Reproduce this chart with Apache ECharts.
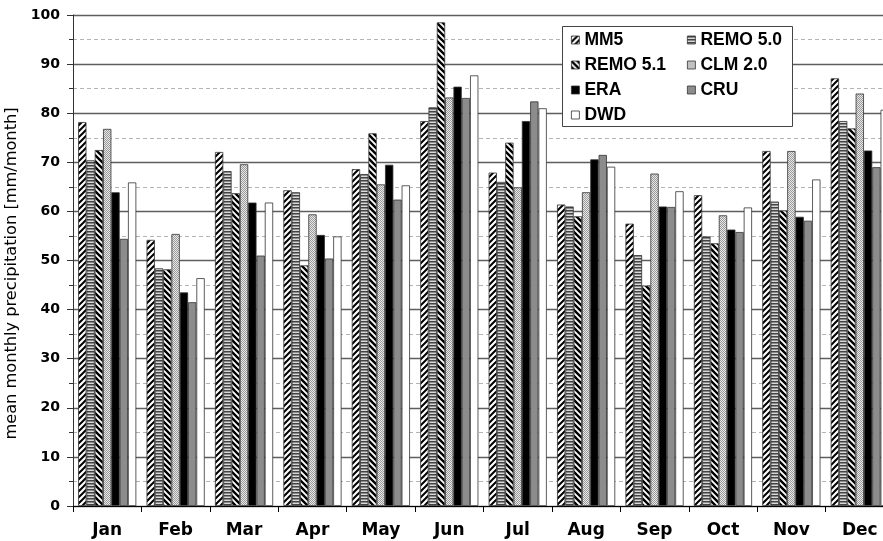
<!DOCTYPE html>
<html>
<head>
<meta charset="utf-8">
<script src="https://cdn.jsdelivr.net/npm/echarts@6/dist/echarts.min.js"></script>
<style>
  html, body { margin: 0; padding: 0; background: #fff; }
  #chart { width: 883px; height: 541px; }
</style>
</head>
<body>
<div id="chart"></div>
<script>
const months = ['Jan', 'Feb', 'Mar', 'Apr', 'May', 'Jun', 'Jul', 'Aug', 'Sep', 'Oct', 'Nov', 'Dec']

const mm5 = [78.2, 54.2, 72.1, 64.3, 68.6, 78.4, 67.9, 61.4, 57.5, 63.3, 72.3, 87.1]
const remo50 = [70.4, 48.4, 68.2, 63.9, 67.6, 81.2, 66.0, 61.0, 51.1, 54.9, 62.0, 78.4]
const remo51 = [72.5, 48.2, 63.7, 49.0, 75.9, 98.5, 74.0, 59.0, 44.9, 53.5, 60.2, 76.9]
const clm20 = [76.8, 55.4, 69.6, 59.4, 65.5, 83.2, 64.9, 63.9, 67.7, 59.2, 72.3, 84.0]
const era = [63.9, 43.5, 61.8, 55.2, 69.5, 85.4, 78.4, 70.6, 61.0, 56.3, 58.9, 72.4]
const cru = [54.4, 41.5, 51.0, 50.4, 62.4, 83.1, 82.4, 71.5, 60.9, 55.8, 58.1, 69.0]
const dwd = [65.9, 46.4, 61.8, 54.9, 65.3, 87.7, 81.0, 69.1, 64.1, 60.8, 66.5, 80.7]

const yTicks = [0, 10, 20, 30, 40, 50, 60, 70, 80, 90, 100]

const FONT = '"Liberation Sans", Arial, sans-serif'
const WIDE = '"DejaVu Sans", Verdana, sans-serif'

// small canvas tiles used as bar fills
function makeTile(size, draw) {
  const c = document.createElement('canvas')
  c.width = size
  c.height = size
  const ctx = c.getContext('2d')
  draw(ctx, size)
  return { image: c, repeat: 'repeat' }
}

const hatchFwd = makeTile(6, (ctx, s) => {
  ctx.fillStyle = '#fff'
  ctx.fillRect(0, 0, s, s)
  ctx.strokeStyle = '#000'
  ctx.lineWidth = 2
  ctx.beginPath()
  ctx.moveTo(-1, s + 1); ctx.lineTo(s + 1, -1)
  ctx.moveTo(-1, 1); ctx.lineTo(1, -1)
  ctx.moveTo(s - 1, s + 1); ctx.lineTo(s + 1, s - 1)
  ctx.stroke()
})

const hatchBack = makeTile(6, (ctx, s) => {
  ctx.fillStyle = '#fff'
  ctx.fillRect(0, 0, s, s)
  ctx.strokeStyle = '#000'
  ctx.lineWidth = 2.4
  ctx.beginPath()
  ctx.moveTo(-1, -1); ctx.lineTo(s + 1, s + 1)
  ctx.moveTo(s - 1, -1); ctx.lineTo(s + 1, 1)
  ctx.moveTo(-1, s - 1); ctx.lineTo(1, s + 1)
  ctx.stroke()
})

const hStripes = makeTile(3, (ctx, s) => {
  ctx.fillStyle = '#8a8a8a'
  ctx.fillRect(0, 0, s, s)
  ctx.fillStyle = '#444'
  ctx.fillRect(0, 0, s, 1)
  ctx.fillStyle = '#d8d8d8'
  ctx.fillRect(0, 2, s, 1)
})

const dotted = makeTile(2, (ctx, s) => {
  ctx.fillStyle = '#e8e8e8'
  ctx.fillRect(0, 0, s, s)
  ctx.fillStyle = '#9a9a9a'
  ctx.fillRect(0, 0, 1, 1)
  ctx.fillRect(1, 1, 1, 1)
})

function barSeries(name, data, fill) {
  return {
    name: name,
    type: 'bar',
    data: data,
    barGap: '0%',
    barCategoryGap: '15%',
    itemStyle: { color: fill, borderColor: '#333', borderWidth: 0.8 },
    emphasis: { disabled: true }
  }
}

const legendText = { fontFamily: FONT, fontWeight: 'bold', fontSize: 17.5, color: '#000' }
const legendCommon = {
  orient: 'vertical',
  icon: 'rect',
  itemWidth: 8,
  itemHeight: 8,
  itemGap: 7,
  itemStyle: { borderColor: '#333', borderWidth: 0.8 },
  textStyle: legendText,
  selectedMode: false,
  padding: 0
}

const chart = echarts.init(document.getElementById('chart'))
chart.setOption({
  animation: false,
  backgroundColor: '#fff',
  grid: { left: 73, right: -11, top: 15, bottom: 35, containLabel: false, outerBoundsMode: 'none' },
  graphic: [{
    type: 'rect',
    shape: { x: 562.5, y: 26.5, width: 230, height: 100 },
    style: { fill: '#fff', stroke: '#444', lineWidth: 1 },
    z: 50
  }],
  legend: [
    Object.assign({}, legendCommon, {
      left: 571, top: 31, z: 60,
      data: ['MM5', 'REMO 5.1', 'ERA', 'DWD']
    }),
    Object.assign({}, legendCommon, {
      left: 687, top: 31, z: 60,
      data: ['REMO 5.0', 'CLM 2.0', 'CRU']
    })
  ],
  xAxis: {
    type: 'category',
    data: months,
    axisLine: { lineStyle: { color: '#000', width: 1 } },
    axisTick: { show: true, length: 6, lineStyle: { color: '#000' } },
    axisLabel: { fontFamily: WIDE, fontWeight: 'bold', fontSize: 17, color: '#000', margin: 16 }
  },
  yAxis: {
    type: 'value',
    min: yTicks[0],
    max: yTicks[yTicks.length - 1],
    interval: 10,
    name: 'mean monthly precipitation [mm/month]',
    nameLocation: 'middle',
    nameGap: 42,
    nameTextStyle: { fontFamily: WIDE, fontSize: 16.2, color: '#000', padding: [0, 26, 0, 0] },
    axisLine: { show: true, lineStyle: { color: '#333', width: 1 } },
    axisTick: { show: true, inside: false, length: 6, lineStyle: { color: '#333' } },
    minorTick: { show: true, splitNumber: 2, length: 4, lineStyle: { color: '#333' } },
    axisLabel: { fontFamily: WIDE, fontWeight: 'bold', fontSize: 14, color: '#000', margin: 13 },
    splitLine: { show: true, lineStyle: { color: '#5e5e5e', width: 1.3 } },
    minorSplitLine: { show: true, lineStyle: { color: '#b4b4b4', type: [4, 3], width: 1 } }
  },
  series: [
    barSeries('MM5', mm5, hatchFwd),
    barSeries('REMO 5.0', remo50, hStripes),
    barSeries('REMO 5.1', remo51, hatchBack),
    barSeries('CLM 2.0', clm20, dotted),
    barSeries('ERA', era, '#000'),
    barSeries('CRU', cru, '#8c8c8c'),
    barSeries('DWD', dwd, '#fff')
  ]
})
</script>
</body>
</html>
